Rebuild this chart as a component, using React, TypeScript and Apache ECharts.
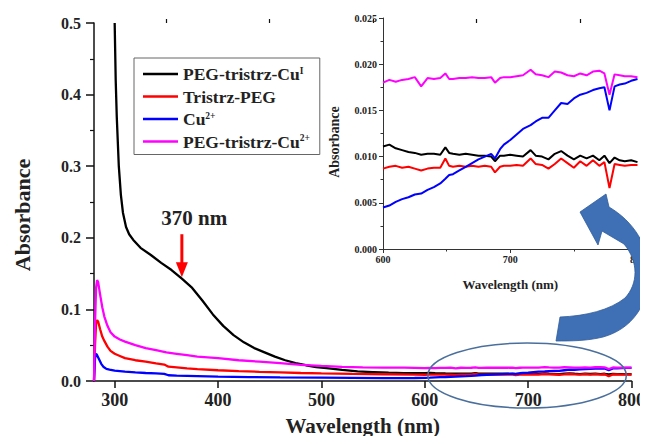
import React, { useEffect, useRef } from 'react';
import * as echarts from 'echarts';

const FONT = "'Liberation Serif', 'Times New Roman', serif";

const seriesNames = ['PEG-tristrz-CuI', 'Tristrz-PEG', 'Cu2+', 'PEG-tristrz-Cu2+'];
const seriesColors = ['#000000', '#ff0000', '#0000ff', '#ff00ff'];
const legendLabels: Record<string, string> = {
  'PEG-tristrz-CuI': 'PEG-tristrz-Cu{sup|I}',
  'Tristrz-PEG': 'Tristrz-PEG',
  'Cu2+': 'Cu{sup|2+}',
  'PEG-tristrz-Cu2+': 'PEG-tristrz-Cu{sup|2+}',
};

const xTicksMain = [300, 400, 500, 600, 700, 800];
const xMinorTicksMain = [350, 450, 550, 650, 750];

// UV region (280-590 nm)
const wlBlack = [300, 301, 302, 304, 306, 308, 311, 314, 318, 325, 335, 345, 355, 365, 375, 385, 395, 405, 415, 425, 435, 445, 455, 465, 475, 485, 495, 505, 520, 535, 550, 565, 580, 590];
const absBlack = [0.5, 0.42, 0.37, 0.3, 0.26, 0.235, 0.215, 0.205, 0.197, 0.186, 0.176, 0.165, 0.155, 0.143, 0.13, 0.112, 0.093, 0.077, 0.064, 0.054, 0.046, 0.04, 0.034, 0.029, 0.025, 0.022, 0.0195, 0.018, 0.0155, 0.0135, 0.0125, 0.0115, 0.011, 0.0108];

const wlRed = [280, 281, 282, 283, 284, 286, 288, 290, 293, 296, 300, 305, 310, 320, 330, 340, 348, 352, 360, 370, 380, 400, 420, 440, 460, 480, 500, 530, 560, 590];
const absRed = [0, 0.05, 0.08, 0.085, 0.083, 0.072, 0.062, 0.056, 0.048, 0.042, 0.038, 0.035, 0.032, 0.029, 0.027, 0.0245, 0.023, 0.02, 0.019, 0.0175, 0.0165, 0.015, 0.0138, 0.0128, 0.012, 0.0112, 0.0106, 0.0099, 0.0094, 0.009];

const wlBlue = [280, 281, 282, 283, 285, 287, 289, 292, 295, 300, 310, 320, 330, 340, 348, 352, 360, 380, 400, 430, 460, 500, 530, 560, 580, 590];
const absBlue = [0, 0.032, 0.038, 0.036, 0.03, 0.024, 0.02, 0.017, 0.016, 0.0145, 0.013, 0.012, 0.0112, 0.0106, 0.01, 0.008, 0.0075, 0.0068, 0.006, 0.0055, 0.005, 0.0046, 0.0043, 0.0041, 0.004, 0.0042];

const wlMagenta = [280, 281, 282, 283, 284, 286, 288, 290, 293, 296, 300, 305, 310, 320, 330, 340, 350, 360, 370, 380, 390, 400, 420, 440, 460, 480, 500, 520, 540, 560, 580, 590];
const absMagenta = [0, 0.08, 0.13, 0.141, 0.138, 0.12, 0.103, 0.09, 0.077, 0.068, 0.062, 0.058, 0.055, 0.05, 0.046, 0.043, 0.04, 0.038, 0.036, 0.034, 0.033, 0.032, 0.029, 0.027, 0.025, 0.0225, 0.021, 0.0198, 0.019, 0.0188, 0.0186, 0.0183];

// Visible region (600-800 nm), shown in the inset
const wlVis = [600, 605, 610, 615, 620, 625, 630, 635, 640, 645, 649, 652, 655, 660, 665, 670, 675, 680, 685, 688, 692, 695, 700, 705, 710, 716, 720, 725, 730, 735, 740, 745, 750, 755, 760, 765, 770, 774, 778, 782, 786, 790, 795, 800];
const visBlack = [0.0111, 0.0113, 0.0109, 0.0107, 0.0105, 0.0104, 0.0102, 0.0103, 0.0103, 0.0102, 0.011, 0.0104, 0.0103, 0.0102, 0.0103, 0.0102, 0.0101, 0.0101, 0.01, 0.0095, 0.0101, 0.0101, 0.0102, 0.0101, 0.01, 0.0107, 0.0101, 0.01, 0.0097, 0.0103, 0.0106, 0.0101, 0.0097, 0.0101, 0.0098, 0.0101, 0.0096, 0.0101, 0.0093, 0.0099, 0.0096, 0.0095, 0.0096, 0.0094];
const visRed = [0.0087, 0.0089, 0.009, 0.0088, 0.0089, 0.0087, 0.0085, 0.0087, 0.0088, 0.0088, 0.0098, 0.009, 0.0089, 0.009, 0.0089, 0.009, 0.0089, 0.009, 0.0089, 0.0083, 0.0089, 0.009, 0.009, 0.0091, 0.009, 0.0098, 0.0092, 0.0091, 0.0087, 0.0092, 0.0098, 0.0093, 0.0088, 0.0095, 0.009, 0.0096, 0.009, 0.0094, 0.0066, 0.0092, 0.0091, 0.009, 0.0091, 0.0091];
const visBlue = [0.0045, 0.0047, 0.0051, 0.0054, 0.0056, 0.0059, 0.006, 0.0064, 0.0067, 0.0071, 0.0076, 0.008, 0.0081, 0.0085, 0.0089, 0.0093, 0.0097, 0.01, 0.0103, 0.0098, 0.0108, 0.0113, 0.0118, 0.0124, 0.013, 0.0134, 0.0138, 0.0142, 0.0142, 0.015, 0.0158, 0.0157, 0.0163, 0.0167, 0.0169, 0.0172, 0.0174, 0.0175, 0.015, 0.0176, 0.0178, 0.0179, 0.0182, 0.0184];
const visMagenta = [0.018, 0.0183, 0.0181, 0.0183, 0.0184, 0.0186, 0.0176, 0.0185, 0.0184, 0.0185, 0.019, 0.0184, 0.0184, 0.0185, 0.0185, 0.0186, 0.0185, 0.0185, 0.0186, 0.018, 0.0185, 0.0186, 0.0186, 0.0187, 0.0188, 0.0194, 0.0189, 0.0188, 0.0186, 0.0192, 0.0191, 0.0188, 0.0187, 0.019, 0.0188, 0.0192, 0.0193, 0.019, 0.0167, 0.0189, 0.0188, 0.0187, 0.0187, 0.0186];

const zip = (xs: number[], ys: number[]) => xs.map((x, i) => [x, ys[i]]);

const uvSets = [zip(wlBlack, absBlack), zip(wlRed, absRed), zip(wlBlue, absBlue), zip(wlMagenta, absMagenta)];
const visSets = [zip(wlVis, visBlack), zip(wlVis, visRed), zip(wlVis, visBlue), zip(wlVis, visMagenta)];

const ARROW_PATH =
  'M 580 212 L 606 194 L 609 207 C 633 221 650 246 649 276 C 648 305 632 329 603 337 C 587 341 571 341 556 341 L 560 317 C 586 316 610 310 625 298 C 638 284 639 262 624 244 L 602 231 L 598 245 Z';

export default function App() {
  const ref = useRef<HTMLDivElement>(null);

  useEffect(() => {
    if (!ref.current) return;
    try {
      echarts.graphic.registerShape('curvedArrow', echarts.graphic.extendPath(ARROW_PATH, {}));
    } catch (e) {}
    const chart = echarts.init(ref.current, null, { renderer: 'svg' });

    const mainSeries = seriesNames.map((name, i) => ({
      name,
      type: 'line',
      xAxisIndex: 0,
      yAxisIndex: 0,
      data: uvSets[i].concat(visSets[i]),
      showSymbol: false,
      lineStyle: { color: seriesColors[i], width: 2.3 },
      itemStyle: { color: seriesColors[i] },
      z: 3,
    }));
    const insetSeries = seriesNames.map((name, i) => ({
      name,
      type: 'line',
      xAxisIndex: 2,
      yAxisIndex: 1,
      data: visSets[i],
      showSymbol: false,
      lineStyle: { color: seriesColors[i], width: 2 },
      itemStyle: { color: seriesColors[i] },
      z: 3,
    }));

    const axisLineMain = { show: true, lineStyle: { color: '#111', width: 1.5 } };
    const axisLineInset = { show: true, lineStyle: { color: '#333', width: 1 } };

    chart.setOption({
      animation: false,
      backgroundColor: '#ffffff',
      textStyle: { fontFamily: FONT },
      grid: [
        { left: 94, top: 23, right: 13, bottom: 63 },
        { left: 383, top: 18, right: 5, bottom: 195 },
      ],
      legend: {
        data: seriesNames,
        orient: 'vertical',
        left: 134,
        top: 58,
        padding: [7, 10, 4, 9],
        itemGap: 4.5,
        itemWidth: 35,
        itemHeight: 2.5,
        icon: 'rect',
        borderColor: '#666',
        borderWidth: 1,
        formatter: (name: string) => legendLabels[name] || name,
        textStyle: {
          fontFamily: FONT,
          fontWeight: 'bold',
          fontSize: 17.5,
          color: '#222',
          lineHeight: 17,
          rich: {
            sup: { fontFamily: FONT, fontWeight: 'bold', fontSize: 9.5, verticalAlign: 'top', lineHeight: 17, color: '#222' },
          },
        },
      },
      xAxis: [
        {
          type: 'value',
          gridIndex: 0,
          min: 280,
          max: 800,
          name: 'Wavelength (nm)',
          nameLocation: 'middle',
          nameGap: 34,
          nameTextStyle: { fontFamily: FONT, fontWeight: 'bold', fontSize: 21, color: '#222' },
          axisLine: axisLineMain,
          axisTick: { show: true, inside: false, length: 7, customValues: xTicksMain, lineStyle: { color: '#111', width: 1.5 } },
          axisLabel: { show: true, customValues: xTicksMain, margin: 10, fontFamily: FONT, fontWeight: 'bold', fontSize: 18, color: '#222' },
          splitLine: { show: false },
        },
        {
          type: 'value',
          gridIndex: 0,
          min: 280,
          max: 800,
          axisLine: { show: false },
          axisTick: { show: true, inside: false, length: 4, customValues: xMinorTicksMain, lineStyle: { color: '#111', width: 1.2 } },
          axisLabel: { show: false },
          splitLine: { show: false },
        },
        {
          type: 'value',
          gridIndex: 1,
          min: 600,
          max: 800,
          interval: 100,
          name: 'Wavelength (nm)',
          nameLocation: 'middle',
          nameGap: 29,
          nameTextStyle: { fontFamily: FONT, fontWeight: 'bold', fontSize: 13, color: '#222' },
          axisLine: axisLineInset,
          axisTick: { show: true, inside: false, length: 4, lineStyle: { color: '#333' } },
          minorTick: { show: true, splitNumber: 2, length: 2.5, lineStyle: { color: '#333' } },
          axisLabel: { margin: 5, fontFamily: FONT, fontWeight: 'bold', fontSize: 10, color: '#222' },
          splitLine: { show: false },
        },
      ],
      yAxis: [
        {
          type: 'value',
          gridIndex: 0,
          min: 0,
          max: 0.5,
          interval: 0.1,
          axisLine: axisLineMain,
          axisTick: { show: true, inside: false, length: 8, lineStyle: { color: '#111', width: 1.5 } },
          minorTick: { show: true, splitNumber: 2, length: 4, lineStyle: { color: '#111', width: 1.2 } },
          axisLabel: { margin: 13, fontFamily: FONT, fontWeight: 'bold', fontSize: 16, color: '#222', formatter: (v: number) => v.toFixed(1) },
          splitLine: { show: false },
        },
        {
          type: 'value',
          gridIndex: 1,
          min: 0,
          max: 0.025,
          interval: 0.005,
          axisLine: axisLineInset,
          axisTick: { show: true, inside: false, length: 4, lineStyle: { color: '#333' } },
          minorTick: { show: true, splitNumber: 2, length: 2.5, lineStyle: { color: '#333' } },
          axisLabel: { margin: 6, fontFamily: FONT, fontWeight: 'bold', fontSize: 10, color: '#222', formatter: (v: number) => v.toFixed(3) },
          splitLine: { show: false },
        },
      ],
      series: [...mainSeries, ...insetSeries],
    });

    const px = (x: number, y: number) => chart.convertToPixel({ gridIndex: 0 }, [x, y]) as number[];
    const arrowTop = px(365, 0.205);
    const arrowTip = px(365, 0.145);
    const labelPos = px(377, 0.227);
    const ellL = px(603, 0.0077);
    const ellR = px(795, 0.0077);
    const ellT = px(699, 0.053);
    const ellB = px(699, -0.0377);

    chart.setOption({
      graphic: [
        {
          type: 'text',
          x: 22,
          y: 215,
          rotation: Math.PI / 2,
          style: { text: 'Absorbance', fontFamily: FONT, fontWeight: 'bold', fontSize: 22, fill: '#222', align: 'center', verticalAlign: 'middle' },
        },
        {
          type: 'text',
          x: 334,
          y: 142,
          rotation: Math.PI / 2,
          style: { text: 'Absorbance', fontFamily: FONT, fontWeight: 'bold', fontSize: 14, fill: '#222', align: 'center', verticalAlign: 'middle' },
        },
        {
          type: 'text',
          x: labelPos[0],
          y: labelPos[1],
          style: { text: '370 nm', fontFamily: FONT, fontWeight: 'bold', fontSize: 21, fill: '#222', align: 'center', verticalAlign: 'middle' },
        },
        {
          type: 'line',
          shape: { x1: arrowTop[0], y1: arrowTop[1], x2: arrowTip[0], y2: arrowTip[1] - 13 },
          style: { stroke: '#ff0000', lineWidth: 3 },
        },
        {
          type: 'polygon',
          shape: { points: [[arrowTip[0] - 6, arrowTip[1] - 15], [arrowTip[0] + 6, arrowTip[1] - 15], [arrowTip[0], arrowTip[1]]] },
          style: { fill: '#ff0000' },
        },
        {
          type: 'ellipse',
          shape: { cx: (ellL[0] + ellR[0]) / 2, cy: (ellT[1] + ellB[1]) / 2, rx: (ellR[0] - ellL[0]) / 2, ry: (ellB[1] - ellT[1]) / 2 },
          style: { fill: 'none', stroke: '#4a6f9c', lineWidth: 1.5 },
          z: 50,
        },
        {
          type: 'curvedArrow',
          x: 0,
          y: 0,
          scaleX: 1,
          scaleY: 1,
          style: { fill: '#3f70b5', stroke: '#2f5c98', lineWidth: 0.8 },
          z: 100,
        },
      ],
    });

    return () => chart.dispose();
  }, []);

  return <div ref={ref} style={{ width: 648, height: 444, margin: -8 }} />;
}
